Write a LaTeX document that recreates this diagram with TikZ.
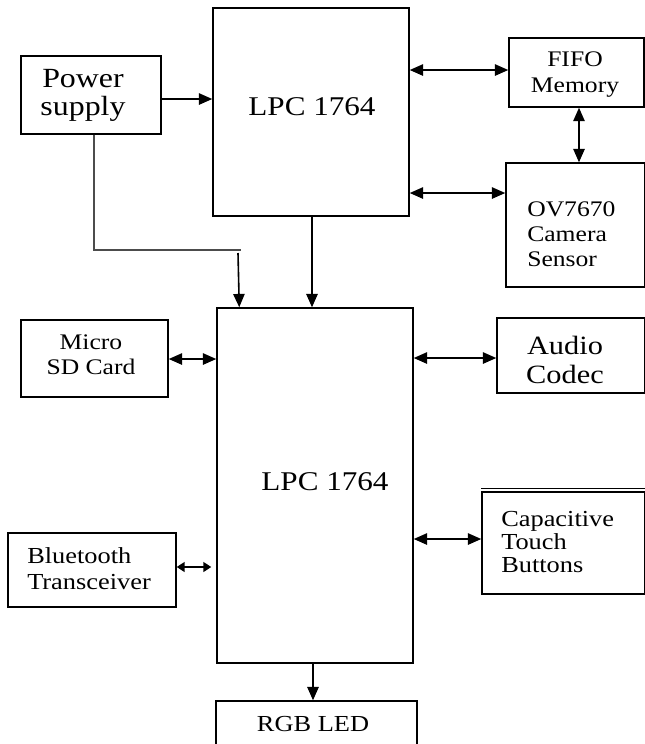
\documentclass[tikz,border=0pt]{standalone}
\usepackage{fontspec}
\setmainfont{Liberation Serif}[FakeStretch=1.15]
\usetikzlibrary{arrows.meta,fit,calc}
\begin{document}
\begin{tikzpicture}[x=0.75pt,y=-0.75pt,
  box/.style={draw, line width=1.1pt, inner sep=0pt},
  lbl/.style={inner sep=0pt, align=center},
  lbll/.style={inner sep=0pt, align=left, anchor=west},
  dbl/.style={line width=1.2pt, {Triangle[length=10pt,width=8.5pt]}-{Triangle[length=10pt,width=8.5pt]}},
  dbls/.style={line width=1.2pt, {Triangle[length=6pt,width=7.5pt]}-{Triangle[length=6pt,width=7.5pt]}},
  one/.style={line width=1.2pt, -{Triangle[length=10pt,width=8.5pt]}},
  wire/.style={line width=0.9pt, draw=black!70},
]
\clip (0,0) rectangle (645,744);
\fill[white] (0,0) rectangle (645,744);

% helper coordinates
\path (0,99) coordinate (h1) (0,70) coordinate (h2) (0,193) coordinate (h3)
      (0,359) coordinate (h4) (0,567) coordinate (h5) (0,358) coordinate (h6)
      (0,539) coordinate (h7) (579,0) coordinate (v1) (312,0) coordinate (v2)
      (313,0) coordinate (v3) (94,0) coordinate (v4)
      (241,250) coordinate (pj1) (238,253) coordinate (pj2);

% boxes
\node[box, fit={(21,56) (161,134)}] (ps) {};
\node[box, fit={(213,8) (409,216)}] (lpct) {};
\node[box, fit={(217,308) (413,663)}] (lpcb) {};
\node[box, fit={(216,701) (417,760)}] (rgb) {};
\node[box, fit={(509,38) (644,107)}] (fifo) {};
\node[box, fit={(506,163) (645,287)}] (ov) {};
\node[box, fit={(21,320) (168,397)}] (sd) {};
\node[box, fit={(8,533) (176,607)}] (bt) {};
\node[box, fit={(497,318) (645,393)}] (aud) {};
\node[box, fit={(482,492) (645,594)}] (cap) {};
\draw[line width=0.8pt] ($(cap.north west)+(0,-2.5)$) -- ($(cap.north east)+(0,-2.5)$);

% labels
\node[lbl, font=\fontsize{20.8}{21}\selectfont] (pst) at (83,95) {Power\\supply};
\node[lbl, font=\fontsize{20.3}{23}\selectfont] (lpctt) at (312,107) {LPC 1764};
\node[lbl, font=\fontsize{20.3}{23}\selectfont] (lpcbt) at (325,482) {LPC 1764};
\node[lbl, font=\fontsize{17.2}{19}\selectfont] (rgbt) at (313,724) {RGB LED};
\node[lbl, font=\fontsize{16.7}{19.5}\selectfont] (fifot) at (575,75) {FIFO\\Memory};
\node[lbll, font=\fontsize{16.7}{18.75}\selectfont] (ovt) at (527,234) {OV7670\\Camera\\Sensor};
\node[lbl, font=\fontsize{16.7}{18.75}\selectfont] (sdt) at (91,355) {Micro\\SD Card};
\node[lbll, font=\fontsize{17.2}{19.5}\selectfont] (btt) at (27,569) {Bluetooth\\Transceiver};
\node[lbl, font=\fontsize{19.8}{21.75}\selectfont] (audt) at (565,360) {Audio\\Codec};
\node[lbll, font=\fontsize{17.2}{17.6}\selectfont] (capt) at (501,542) {Capacitive\\Touch\\Buttons};

% connectors
\draw[one] (ps.east |- h1) -- (lpct.west |- h1);
\draw[wire] (ps.south -| v4) -- (v4 |- pj1) -- (pj1);
\draw[one] (pj2) -- ($(lpcb.north west)+(23,0)$);
\draw[one] (lpct.south -| v2) -- (lpcb.north -| v2);
\draw[dbl] (lpct.east |- h2) -- (fifo.west |- h2);
\draw[dbl] (lpct.east |- h3) -- (ov.west |- h3);
\draw[dbl] (fifo.south -| v1) -- (ov.north -| v1);
\draw[dbl] (sd.east |- h4) -- (lpcb.west |- h4);
\draw[dbls] (bt.east |- h5) -- ($(lpcb.west |- h5)+(-5,0)$);
\draw[dbl] (lpcb.east |- h6) -- (aud.west |- h6);
\draw[dbl] (lpcb.east |- h7) -- (cap.west |- h7);
\draw[one] (lpcb.south -| v3) -- (rgb.north -| v3);
\end{tikzpicture}
\end{document}
